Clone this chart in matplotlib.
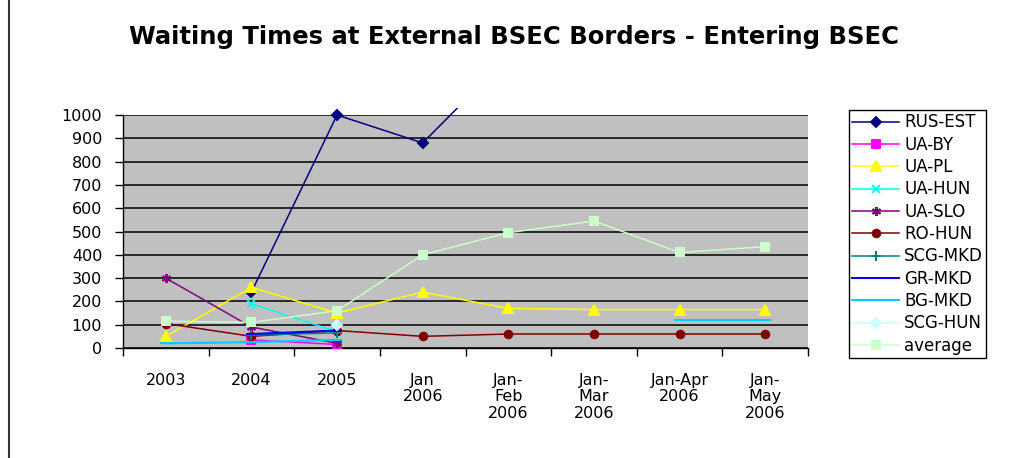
import numpy as np
import matplotlib
matplotlib.use("Agg")
import matplotlib.pyplot as plt
from matplotlib.patches import Rectangle
from matplotlib.lines import Line2D

nan = np.nan
categories = ["2003", "2004", "2005", "Jan\n2006", "Jan-\nFeb\n2006",
              "Jan-\nMar\n2006", "Jan-Apr\n2006", "Jan-\nMay\n2006"]

rus_est = [nan, 240, 1000, 880, 1250, nan, nan, nan]
ua_by = [nan, 35, 15, nan, nan, nan, nan, nan]
ua_pl = [50, 260, 150, 240, 170, 165, 165, 165]
ua_hun = [nan, 190, 70, nan, nan, nan, nan, nan]
ua_slo = [300, 90, 20, nan, nan, nan, nan, nan]
ro_hun = [105, 50, 75, 50, 60, 60, 60, 60]
scg_mkd = [nan, 55, 65, nan, nan, nan, nan, nan]
gr_mkd = [nan, 60, 75, nan, nan, nan, nan, nan]
bg_mkd = [20, 25, 35, nan, nan, nan, 120, 120]
scg_hun = [nan, nan, 100, nan, nan, nan, nan, nan]
average = [115, 110, 160, 400, 495, 545, 410, 435]

yticks = [0, 100, 200, 300, 400, 500, 600, 700, 800, 900, 1000]

series = [
    ("RUS-EST", rus_est, "#000080", "D", 5.5, 1.1),
    ("UA-BY", ua_by, "#FF00FF", "s", 5.5, 1.1),
    ("UA-PL", ua_pl, "#FFFF00", "^", 6.5, 1.1),
    ("UA-HUN", ua_hun, "#00FFFF", "x", 5.5, 1.1),
    ("UA-SLO", ua_slo, "#800080", (6, 2, 0), 6.5, 1.1),
    ("RO-HUN", ro_hun, "#800000", "o", 5.5, 1.1),
    ("SCG-MKD", scg_mkd, "#008080", "+", 6.5, 1.1),
    ("GR-MKD", gr_mkd, "#0000FF", "_", 6.5, 1.5),
    ("BG-MKD", bg_mkd, "#00CCFF", "_", 8.5, 1.5),
    ("SCG-HUN", scg_hun, "#CCFFFF", "D", 5.5, 1.1),
    ("average", average, "#CCFFCC", "s", 5.5, 1.1),
]

W, H = 1013, 458
fig = plt.figure(figsize=(W / 100, H / 100), dpi=100)
fig.patch.set_facecolor("white")

ax = fig.add_axes([123 / W, 1 - 348 / H, (808 - 123) / W, (348 - 115) / H])
ax.set_facecolor("#C0C0C0")
x = np.arange(len(categories))

clip = Rectangle((0, 0), 1, 1.03, transform=ax.transAxes, facecolor="none", edgecolor="none")
ax.add_patch(clip)

handles = []
for name, vals, col, mk, ms, lw in series:
    v = np.array(vals, dtype=float)
    ln, = ax.plot(x, v, color=col, marker=mk, markersize=ms, lw=lw,
                  markeredgecolor=col, markerfacecolor=col, markeredgewidth=1.4,
                  label=name, zorder=3)
    ln.set_clip_path(clip)
    handles.append(ln)

ax.set_xlim(-0.5, len(categories) - 0.5)
ax.set_ylim(0, 1000)
ax.set_yticks(yticks)
ax.set_yticklabels([str(t) for t in yticks])
ax.yaxis.grid(True, color="black", lw=1.1, zorder=1)
ax.set_axisbelow(True)

ax.set_xticks(x)
ax.set_xticklabels(categories, linespacing=1.12, va="top")
ax.set_xticks(np.arange(len(categories) + 1) - 0.5, minor=True)
ax.tick_params(axis="x", which="major", length=0, pad=18)
ax.tick_params(axis="x", which="minor", length=6, width=1, direction="out", color="black")
ax.tick_params(axis="y", length=6, width=1, direction="out", pad=9, color="black")
for lab in ax.get_xticklabels() + ax.get_yticklabels():
    lab.set_fontfamily("DejaVu Sans")
    lab.set_fontsize(11.5)
    lab.set_color("black")

for s in ["top", "right"]:
    ax.spines[s].set_visible(False)
ax.spines["left"].set_color("black")
ax.spines["bottom"].set_color("black")
ax.spines["left"].set_linewidth(1)
ax.spines["bottom"].set_linewidth(1)

fig.text(514 / W, 1 - 37 / H, "Waiting Times at External BSEC Borders - Entering BSEC",
         ha="center", va="center", fontsize=17.5, fontweight="bold",
         family="DejaVu Sans")

leg = fig.legend(handles=handles, loc="upper left",
                 bbox_to_anchor=(849 / W, 1 - 110 / H),
                 bbox_transform=fig.transFigure,
                 prop={"family": "DejaVu Sans", "size": 12},
                 frameon=True, fancybox=False, edgecolor="black",
                 framealpha=1, borderpad=0.2, labelspacing=0.26,
                 handlelength=2.8, handletextpad=0.3, borderaxespad=0)
leg.get_frame().set_linewidth(1)

fig.add_artist(Line2D([9 / W, 9 / W], [0, 1], color="#333333", lw=1.5,
                      transform=fig.transFigure))

fig.savefig("out.png", dpi=100)
